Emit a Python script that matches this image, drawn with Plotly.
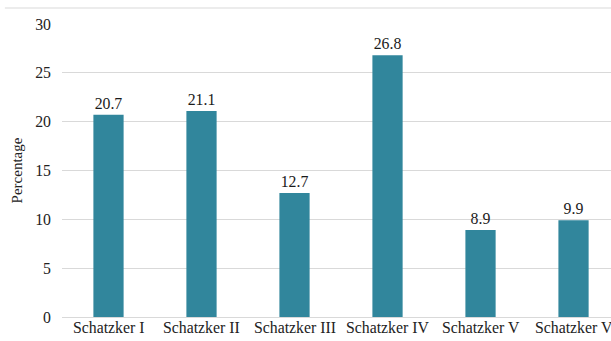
import plotly.graph_objects as go

categories = ["Schatzker I", "Schatzker II", "Schatzker III", "Schatzker IV", "Schatzker V", "Schatzker V"]
values = [20.7, 21.1, 12.7, 26.8, 8.9, 9.9]
y_ticks = [0, 5, 10, 15, 20, 25, 30]

xs = list(range(len(categories)))
font_family = "'Liberation Serif', 'Times New Roman', serif"
fs = 15.8

fig = go.Figure(go.Bar(
    x=xs, y=values,
    marker=dict(color="#31869C", line=dict(width=0)),
    text=[f"{v:.1f}" for v in values],
    textposition="outside",
    textfont=dict(family=font_family, size=fs, color="#1a1a1a"),
    cliponaxis=False,
    width=0.325,
))

annotations = [
    dict(x=x, y=0, xref="x", yref="paper", text=c, showarrow=False,
         xanchor="center", yanchor="middle", yshift=-10,
         font=dict(family=font_family, size=fs, color="#222"))
    for x, c in zip(xs, categories)
]

fig.update_layout(
    width=611, height=341,
    margin=dict(l=62, r=0, t=24, b=24),
    paper_bgcolor="white", plot_bgcolor="white",
    font=dict(family=font_family, size=fs, color="#222"),
    showlegend=False,
    xaxis=dict(
        tickvals=xs, ticktext=[""] * len(xs),
        range=[-0.5, 5.403],
        showgrid=False, zeroline=False,
        showline=True, linecolor="#d9d9d9", linewidth=1,
        ticks="",
    ),
    yaxis=dict(
        range=[0, 30], tickvals=y_ticks,
        showgrid=True, gridcolor="#d9d9d9", gridwidth=1,
        zeroline=False, showline=False,
        ticks="", ticklen=0,
        ticklabelstandoff=10,
        tickfont=dict(size=fs, color="#222"),
        title=dict(text="Percentage", font=dict(size=15, color="#222"), standoff=8),
    ),
    annotations=annotations,
    shapes=[dict(type="line", xref="paper", yref="paper",
                 x0=-0.104, x1=1.0, y0=1.0546, y1=1.0546,
                 line=dict(color="#d9d9d9", width=1))],
)

fig.write_html("out.html")
